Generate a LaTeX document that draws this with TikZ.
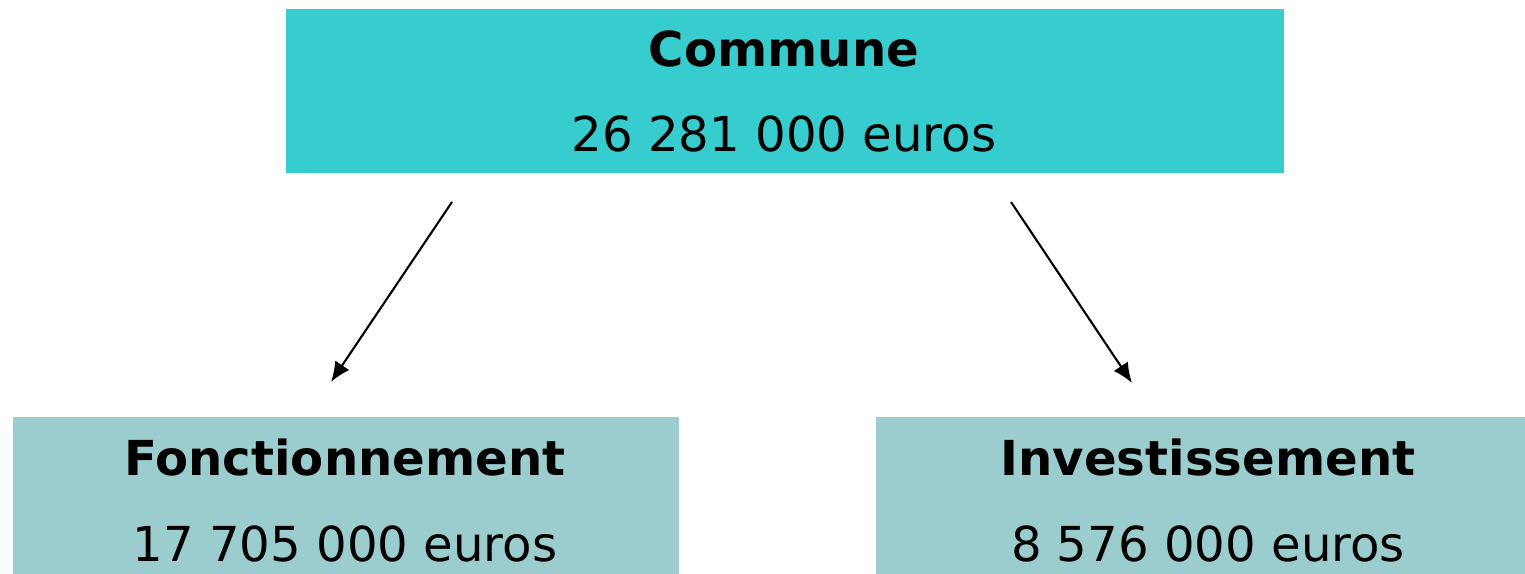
\documentclass[tikz,border=0pt]{standalone}
\usepackage{fontspec}
\setmainfont{DejaVu Sans}
\usetikzlibrary{positioning}
\usetikzlibrary{arrows.meta}
\definecolor{communecol}{RGB}{55,204,206}
\definecolor{partcol}{RGB}{155,205,206}

\begin{document}
\begin{tikzpicture}[x=0.01cm,y=-0.01cm,
  box/.style={fill=#1,draw=none,inner sep=0pt,anchor=north west},
  title/.style={font=\fontsize{13.7}{16}\selectfont\bfseries,anchor=base},
  amount/.style={font=\fontsize{13.7}{16}\selectfont,anchor=base},
  flow/.style={-{Latex[length=0.2cm,width=0.17cm]},line width=0.6pt}]
 \useasboundingbox (0,0) rectangle (1525,574);

 \node[box=communecol,minimum width=9.98cm,minimum height=1.64cm,name=commune] at (285,8)   {};
 \node[box=partcol,   minimum width=6.66cm,minimum height=1.58cm,name=fonct]   at (12,416)  {};
 \node[box=partcol,   minimum width=6.50cm,minimum height=1.58cm,name=invest]  at (875,416) {};

 \node[title, name=commune-title]  at (784,67)  {Commune};
 \node[amount,name=commune-amount] at (784,152) {26 281 000 euros};
 \node[title, name=fonct-title]    at (345,476) {Fonctionnement};
 \node[amount,name=fonct-amount]   at (345,562) {17 705 000 euros};
 \node[title, name=invest-title]   at (1208,476) {Investissement};
 \node[amount,name=invest-amount]  at (1208,562) {8 576 000 euros};

 \coordinate (fonct-from)  at (452,202);
 \coordinate (fonct-to)    at (331,382);
 \coordinate (invest-from) at (1011,202);
 \coordinate (invest-to)   at (1132,383);

 \draw[flow] (fonct-from)  -- (fonct-to);
 \draw[flow] (invest-from) -- (invest-to);
\end{tikzpicture}
\end{document}
